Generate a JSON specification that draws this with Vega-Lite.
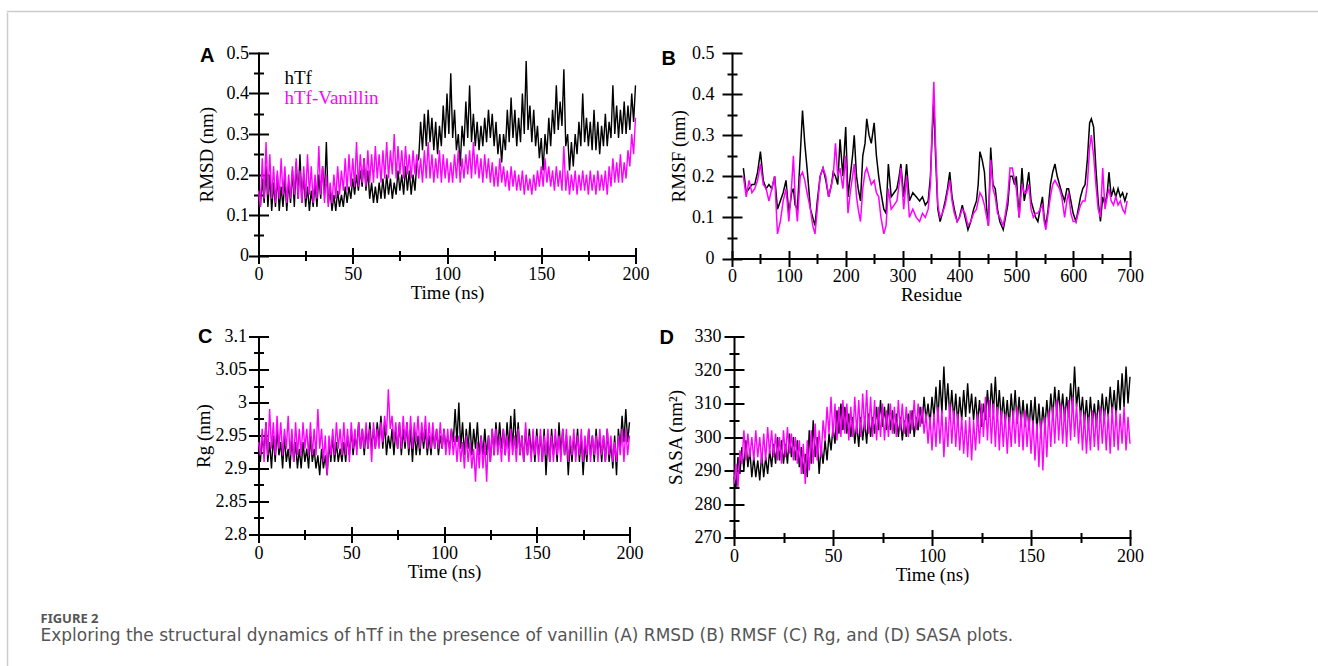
{
"$schema": "https://vega.github.io/schema/vega-lite/v6.json",
"background": "white",
"padding": {"left": 6.5, "top": 10.5, "right": 0, "bottom": 0},
"datasets": {
"md": [
{"t":0,"a1":0.15,"a2":0.16,"c1":2.93,"c2":2.94,"d1":288,"d2":286},
{"t":1,"a1":0.12,"a2":0.12,"c1":2.91,"c2":2.92,"d1":285,"d2":292},
{"t":2,"a1":0.19,"a2":0.24,"c1":2.95,"c2":2.96,"d1":294,"d2":285},
{"t":3,"a1":0.13,"a2":0.14,"c1":2.92,"c2":2.91,"d1":289,"d2":296},
{"t":4,"a1":0.22,"a2":0.28,"c1":2.97,"c2":2.97,"d1":297,"d2":292},
{"t":5,"a1":0.12,"a2":0.15,"c1":2.91,"c2":2.92,"d1":290,"d2":302},
{"t":6,"a1":0.2,"a2":0.25,"c1":2.94,"c2":2.99,"d1":299,"d2":293},
{"t":7,"a1":0.11,"a2":0.14,"c1":2.9,"c2":2.93,"d1":291,"d2":301},
{"t":8,"a1":0.18,"a2":0.22,"c1":2.95,"c2":2.97,"d1":296,"d2":294},
{"t":9,"a1":0.12,"a2":0.13,"c1":2.91,"c2":2.92,"d1":288,"d2":300},
{"t":10,"a1":0.2,"a2":0.21,"c1":2.96,"c2":2.98,"d1":294,"d2":293},
{"t":11,"a1":0.11,"a2":0.14,"c1":2.92,"c2":2.93,"d1":288,"d2":302},
{"t":12,"a1":0.17,"a2":0.24,"c1":2.94,"c2":2.97,"d1":293,"d2":294},
{"t":13,"a1":0.12,"a2":0.15,"c1":2.9,"c2":2.92,"d1":287,"d2":300},
{"t":14,"a1":0.19,"a2":0.22,"c1":2.95,"c2":2.96,"d1":295,"d2":292},
{"t":15,"a1":0.11,"a2":0.13,"c1":2.91,"c2":2.93,"d1":288,"d2":301},
{"t":16,"a1":0.18,"a2":0.2,"c1":2.93,"c2":2.98,"d1":294,"d2":293},
{"t":17,"a1":0.13,"a2":0.14,"c1":2.9,"c2":2.92,"d1":289,"d2":303},
{"t":18,"a1":0.21,"a2":0.22,"c1":2.95,"c2":2.96,"d1":296,"d2":295},
{"t":19,"a1":0.12,"a2":0.15,"c1":2.91,"c2":2.91,"d1":291,"d2":302},
{"t":20,"a1":0.23,"a2":0.24,"c1":2.94,"c2":2.97,"d1":298,"d2":294},
{"t":21,"a1":0.14,"a2":0.14,"c1":2.9,"c2":2.92,"d1":292,"d2":301},
{"t":22,"a1":0.25,"a2":0.21,"c1":2.93,"c2":2.96,"d1":300,"d2":293},
{"t":23,"a1":0.13,"a2":0.13,"c1":2.9,"c2":2.92,"d1":293,"d2":300},
{"t":24,"a1":0.2,"a2":0.22,"c1":2.94,"c2":2.97,"d1":299,"d2":292},
{"t":25,"a1":0.12,"a2":0.14,"c1":2.91,"c2":2.93,"d1":292,"d2":302},
{"t":26,"a1":0.17,"a2":0.25,"c1":2.93,"c2":2.96,"d1":298,"d2":294},
{"t":27,"a1":0.11,"a2":0.15,"c1":2.9,"c2":2.92,"d1":292,"d2":303},
{"t":28,"a1":0.16,"a2":0.22,"c1":2.95,"c2":2.97,"d1":301,"d2":295},
{"t":29,"a1":0.12,"a2":0.13,"c1":2.91,"c2":2.92,"d1":294,"d2":301},
{"t":30,"a1":0.18,"a2":0.2,"c1":2.93,"c2":2.96,"d1":300,"d2":293},
{"t":31,"a1":0.12,"a2":0.14,"c1":2.9,"c2":2.92,"d1":293,"d2":300},
{"t":32,"a1":0.2,"a2":0.27,"c1":2.92,"c2":2.99,"d1":299,"d2":292},
{"t":33,"a1":0.14,"a2":0.15,"c1":2.89,"c2":2.93,"d1":291,"d2":299},
{"t":34,"a1":0.22,"a2":0.22,"c1":2.93,"c2":2.96,"d1":297,"d2":289},
{"t":35,"a1":0.15,"a2":0.13,"c1":2.9,"c2":2.91,"d1":289,"d2":298},
{"t":36,"a1":0.28,"a2":0.2,"c1":2.92,"c2":2.95,"d1":295,"d2":286},
{"t":37,"a1":0.13,"a2":0.12,"c1":2.89,"c2":2.89,"d1":288,"d2":299},
{"t":38,"a1":0.16,"a2":0.18,"c1":2.94,"c2":2.95,"d1":302,"d2":290},
{"t":39,"a1":0.11,"a2":0.13,"c1":2.91,"c2":2.92,"d1":292,"d2":302},
{"t":40,"a1":0.15,"a2":0.2,"c1":2.95,"c2":2.96,"d1":305,"d2":292},
{"t":41,"a1":0.11,"a2":0.14,"c1":2.91,"c2":2.92,"d1":294,"d2":304},
{"t":42,"a1":0.16,"a2":0.22,"c1":2.94,"c2":2.97,"d1":300,"d2":293},
{"t":43,"a1":0.12,"a2":0.15,"c1":2.91,"c2":2.93,"d1":289,"d2":302},
{"t":44,"a1":0.15,"a2":0.21,"c1":2.93,"c2":2.96,"d1":297,"d2":294},
{"t":45,"a1":0.12,"a2":0.16,"c1":2.91,"c2":2.92,"d1":292,"d2":305},
{"t":46,"a1":0.17,"a2":0.24,"c1":2.94,"c2":2.97,"d1":299,"d2":299},
{"t":47,"a1":0.13,"a2":0.16,"c1":2.91,"c2":2.92,"d1":293,"d2":309},
{"t":48,"a1":0.17,"a2":0.25,"c1":2.95,"c2":2.96,"d1":301,"d2":301},
{"t":49,"a1":0.14,"a2":0.17,"c1":2.92,"c2":2.91,"d1":296,"d2":312},
{"t":50,"a1":0.19,"a2":0.24,"c1":2.96,"c2":2.97,"d1":303,"d2":300},
{"t":51,"a1":0.15,"a2":0.17,"c1":2.92,"c2":2.93,"d1":298,"d2":310},
{"t":52,"a1":0.2,"a2":0.28,"c1":2.95,"c2":2.96,"d1":308,"d2":299},
{"t":53,"a1":0.16,"a2":0.17,"c1":2.93,"c2":2.92,"d1":301,"d2":309},
{"t":54,"a1":0.21,"a2":0.25,"c1":2.97,"c2":2.97,"d1":310,"d2":300},
{"t":55,"a1":0.17,"a2":0.18,"c1":2.93,"c2":2.93,"d1":302,"d2":311},
{"t":56,"a1":0.24,"a2":0.24,"c1":2.96,"c2":2.96,"d1":309,"d2":301},
{"t":57,"a1":0.16,"a2":0.17,"c1":2.92,"c2":2.93,"d1":301,"d2":310},
{"t":58,"a1":0.21,"a2":0.26,"c1":2.96,"c2":2.97,"d1":307,"d2":299},
{"t":59,"a1":0.14,"a2":0.18,"c1":2.93,"c2":2.93,"d1":300,"d2":309},
{"t":60,"a1":0.18,"a2":0.25,"c1":2.97,"c2":2.96,"d1":306,"d2":300},
{"t":61,"a1":0.13,"a2":0.18,"c1":2.93,"c2":2.91,"d1":298,"d2":312},
{"t":62,"a1":0.17,"a2":0.27,"c1":2.96,"c2":2.97,"d1":304,"d2":301},
{"t":63,"a1":0.13,"a2":0.19,"c1":2.93,"c2":2.93,"d1":297,"d2":311},
{"t":64,"a1":0.18,"a2":0.25,"c1":2.97,"c2":2.96,"d1":306,"d2":300},
{"t":65,"a1":0.14,"a2":0.18,"c1":2.94,"c2":2.93,"d1":299,"d2":313},
{"t":66,"a1":0.19,"a2":0.26,"c1":2.98,"c2":2.97,"d1":305,"d2":302},
{"t":67,"a1":0.14,"a2":0.19,"c1":2.93,"c2":2.94,"d1":298,"d2":314},
{"t":68,"a1":0.2,"a2":0.28,"c1":2.97,"c2":2.98,"d1":307,"d2":301},
{"t":69,"a1":0.15,"a2":0.19,"c1":2.92,"c2":2.95,"d1":300,"d2":312},
{"t":70,"a1":0.19,"a2":0.26,"c1":2.95,"c2":3.02,"d1":306,"d2":300},
{"t":71,"a1":0.14,"a2":0.2,"c1":2.93,"c2":2.96,"d1":301,"d2":311},
{"t":72,"a1":0.18,"a2":0.3,"c1":2.96,"c2":2.98,"d1":309,"d2":299},
{"t":73,"a1":0.15,"a2":0.19,"c1":2.92,"c2":2.94,"d1":302,"d2":309},
{"t":74,"a1":0.21,"a2":0.27,"c1":2.96,"c2":2.97,"d1":311,"d2":300},
{"t":75,"a1":0.16,"a2":0.2,"c1":2.93,"c2":2.93,"d1":303,"d2":310},
{"t":76,"a1":0.2,"a2":0.26,"c1":2.97,"c2":2.97,"d1":309,"d2":299},
{"t":77,"a1":0.15,"a2":0.19,"c1":2.92,"c2":2.93,"d1":302,"d2":308},
{"t":78,"a1":0.22,"a2":0.27,"c1":2.96,"c2":2.98,"d1":310,"d2":300},
{"t":79,"a1":0.16,"a2":0.2,"c1":2.93,"c2":2.94,"d1":302,"d2":310},
{"t":80,"a1":0.21,"a2":0.25,"c1":2.97,"c2":2.97,"d1":308,"d2":301},
{"t":81,"a1":0.15,"a2":0.19,"c1":2.92,"c2":2.93,"d1":301,"d2":309},
{"t":82,"a1":0.2,"a2":0.26,"c1":2.96,"c2":2.98,"d1":307,"d2":300},
{"t":83,"a1":0.16,"a2":0.2,"c1":2.91,"c2":2.93,"d1":300,"d2":311},
{"t":84,"a1":0.23,"a2":0.25,"c1":2.96,"c2":2.97,"d1":306,"d2":302},
{"t":85,"a1":0.24,"a2":0.19,"c1":2.92,"c2":2.94,"d1":299,"d2":310},
{"t":86,"a1":0.33,"a2":0.24,"c1":2.95,"c2":2.98,"d1":305,"d2":301},
{"t":87,"a1":0.26,"a2":0.18,"c1":2.92,"c2":2.93,"d1":300,"d2":309},
{"t":88,"a1":0.35,"a2":0.26,"c1":2.96,"c2":2.97,"d1":307,"d2":300},
{"t":89,"a1":0.27,"a2":0.19,"c1":2.93,"c2":2.94,"d1":301,"d2":308},
{"t":90,"a1":0.36,"a2":0.28,"c1":2.96,"c2":2.98,"d1":308,"d2":302},
{"t":91,"a1":0.28,"a2":0.19,"c1":2.92,"c2":2.93,"d1":300,"d2":311},
{"t":92,"a1":0.34,"a2":0.25,"c1":2.95,"c2":2.97,"d1":306,"d2":302},
{"t":93,"a1":0.26,"a2":0.18,"c1":2.92,"c2":2.93,"d1":302,"d2":310},
{"t":94,"a1":0.33,"a2":0.24,"c1":2.96,"c2":2.97,"d1":309,"d2":303},
{"t":95,"a1":0.25,"a2":0.19,"c1":2.93,"c2":2.93,"d1":304,"d2":309},
{"t":96,"a1":0.32,"a2":0.26,"c1":2.96,"c2":2.96,"d1":312,"d2":301},
{"t":97,"a1":0.27,"a2":0.18,"c1":2.92,"c2":2.93,"d1":305,"d2":307},
{"t":98,"a1":0.37,"a2":0.25,"c1":2.95,"c2":2.97,"d1":310,"d2":298},
{"t":99,"a1":0.29,"a2":0.19,"c1":2.93,"c2":2.93,"d1":304,"d2":306},
{"t":100,"a1":0.4,"a2":0.24,"c1":2.96,"c2":2.96,"d1":312,"d2":296},
{"t":101,"a1":0.3,"a2":0.18,"c1":2.93,"c2":2.92,"d1":306,"d2":307},
{"t":102,"a1":0.45,"a2":0.23,"c1":2.95,"c2":2.96,"d1":315,"d2":297},
{"t":103,"a1":0.29,"a2":0.18,"c1":2.93,"c2":2.92,"d1":305,"d2":309},
{"t":104,"a1":0.36,"a2":0.25,"c1":2.96,"c2":2.96,"d1":317,"d2":298},
{"t":105,"a1":0.26,"a2":0.19,"c1":2.94,"c2":2.92,"d1":307,"d2":308},
{"t":106,"a1":0.3,"a2":0.26,"c1":2.99,"c2":2.95,"d1":321,"d2":294},
{"t":107,"a1":0.22,"a2":0.18,"c1":2.94,"c2":2.91,"d1":308,"d2":306},
{"t":108,"a1":0.32,"a2":0.24,"c1":3.0,"c2":2.95,"d1":316,"d2":297},
{"t":109,"a1":0.27,"a2":0.19,"c1":2.93,"c2":2.91,"d1":306,"d2":310},
{"t":110,"a1":0.38,"a2":0.25,"c1":2.97,"c2":2.94,"d1":314,"d2":298},
{"t":111,"a1":0.29,"a2":0.2,"c1":2.92,"c2":2.9,"d1":305,"d2":308},
{"t":112,"a1":0.42,"a2":0.26,"c1":2.96,"c2":2.95,"d1":313,"d2":297},
{"t":113,"a1":0.28,"a2":0.19,"c1":2.93,"c2":2.91,"d1":304,"d2":307},
{"t":114,"a1":0.35,"a2":0.28,"c1":2.97,"c2":2.94,"d1":312,"d2":296},
{"t":115,"a1":0.27,"a2":0.2,"c1":2.92,"c2":2.9,"d1":305,"d2":306},
{"t":116,"a1":0.33,"a2":0.25,"c1":2.96,"c2":2.93,"d1":314,"d2":295},
{"t":117,"a1":0.26,"a2":0.19,"c1":2.93,"c2":2.88,"d1":306,"d2":305},
{"t":118,"a1":0.32,"a2":0.24,"c1":2.97,"c2":2.94,"d1":316,"d2":294},
{"t":119,"a1":0.27,"a2":0.18,"c1":2.92,"c2":2.9,"d1":307,"d2":306},
{"t":120,"a1":0.34,"a2":0.25,"c1":2.95,"c2":2.95,"d1":313,"d2":293},
{"t":121,"a1":0.28,"a2":0.19,"c1":2.92,"c2":2.9,"d1":305,"d2":305},
{"t":122,"a1":0.36,"a2":0.24,"c1":2.96,"c2":2.94,"d1":312,"d2":296},
{"t":123,"a1":0.29,"a2":0.18,"c1":2.92,"c2":2.88,"d1":304,"d2":307},
{"t":124,"a1":0.35,"a2":0.23,"c1":2.95,"c2":2.95,"d1":311,"d2":298},
{"t":125,"a1":0.27,"a2":0.17,"c1":2.91,"c2":2.91,"d1":303,"d2":310},
{"t":126,"a1":0.33,"a2":0.22,"c1":2.96,"c2":2.96,"d1":310,"d2":300},
{"t":127,"a1":0.25,"a2":0.17,"c1":2.92,"c2":2.92,"d1":305,"d2":312},
{"t":128,"a1":0.3,"a2":0.24,"c1":2.97,"c2":2.96,"d1":314,"d2":299},
{"t":129,"a1":0.23,"a2":0.18,"c1":2.93,"c2":2.92,"d1":306,"d2":311},
{"t":130,"a1":0.3,"a2":0.22,"c1":2.97,"c2":2.95,"d1":316,"d2":298},
{"t":131,"a1":0.26,"a2":0.17,"c1":2.93,"c2":2.91,"d1":307,"d2":310},
{"t":132,"a1":0.36,"a2":0.21,"c1":2.96,"c2":2.96,"d1":318,"d2":297},
{"t":133,"a1":0.28,"a2":0.16,"c1":2.92,"c2":2.92,"d1":306,"d2":309},
{"t":134,"a1":0.39,"a2":0.22,"c1":2.97,"c2":2.95,"d1":314,"d2":296},
{"t":135,"a1":0.29,"a2":0.17,"c1":2.93,"c2":2.91,"d1":305,"d2":308},
{"t":136,"a1":0.36,"a2":0.21,"c1":2.98,"c2":2.96,"d1":312,"d2":297},
{"t":137,"a1":0.27,"a2":0.16,"c1":2.93,"c2":2.92,"d1":304,"d2":307},
{"t":138,"a1":0.34,"a2":0.2,"c1":2.99,"c2":2.95,"d1":311,"d2":295},
{"t":139,"a1":0.28,"a2":0.16,"c1":2.93,"c2":2.91,"d1":303,"d2":306},
{"t":140,"a1":0.4,"a2":0.21,"c1":2.97,"c2":2.96,"d1":313,"d2":297},
{"t":141,"a1":0.3,"a2":0.15,"c1":2.92,"c2":2.92,"d1":305,"d2":308},
{"t":142,"a1":0.48,"a2":0.2,"c1":2.95,"c2":2.95,"d1":314,"d2":298},
{"t":143,"a1":0.31,"a2":0.16,"c1":2.91,"c2":2.91,"d1":304,"d2":309},
{"t":144,"a1":0.37,"a2":0.19,"c1":2.96,"c2":2.97,"d1":312,"d2":297},
{"t":145,"a1":0.28,"a2":0.15,"c1":2.92,"c2":2.92,"d1":304,"d2":307},
{"t":146,"a1":0.36,"a2":0.2,"c1":2.96,"c2":2.95,"d1":311,"d2":296},
{"t":147,"a1":0.27,"a2":0.16,"c1":2.92,"c2":2.91,"d1":303,"d2":308},
{"t":148,"a1":0.32,"a2":0.21,"c1":2.95,"c2":2.96,"d1":310,"d2":297},
{"t":149,"a1":0.24,"a2":0.17,"c1":2.91,"c2":2.92,"d1":302,"d2":306},
{"t":150,"a1":0.29,"a2":0.22,"c1":2.96,"c2":2.95,"d1":311,"d2":295},
{"t":151,"a1":0.21,"a2":0.17,"c1":2.92,"c2":2.91,"d1":303,"d2":305},
{"t":152,"a1":0.3,"a2":0.24,"c1":2.95,"c2":2.96,"d1":312,"d2":293},
{"t":153,"a1":0.25,"a2":0.18,"c1":2.91,"c2":2.91,"d1":302,"d2":304},
{"t":154,"a1":0.34,"a2":0.22,"c1":2.96,"c2":2.95,"d1":310,"d2":291},
{"t":155,"a1":0.27,"a2":0.17,"c1":2.89,"c2":2.92,"d1":301,"d2":305},
{"t":156,"a1":0.36,"a2":0.21,"c1":2.95,"c2":2.96,"d1":309,"d2":290},
{"t":157,"a1":0.3,"a2":0.16,"c1":2.91,"c2":2.91,"d1":303,"d2":306},
{"t":158,"a1":0.42,"a2":0.22,"c1":2.96,"c2":2.95,"d1":311,"d2":294},
{"t":159,"a1":0.31,"a2":0.17,"c1":2.92,"c2":2.91,"d1":304,"d2":308},
{"t":160,"a1":0.38,"a2":0.21,"c1":2.95,"c2":2.96,"d1":313,"d2":297},
{"t":161,"a1":0.32,"a2":0.16,"c1":2.91,"c2":2.92,"d1":306,"d2":309},
{"t":162,"a1":0.46,"a2":0.27,"c1":2.97,"c2":2.95,"d1":315,"d2":298},
{"t":163,"a1":0.27,"a2":0.16,"c1":2.92,"c2":2.91,"d1":307,"d2":311},
{"t":164,"a1":0.3,"a2":0.21,"c1":2.96,"c2":2.96,"d1":314,"d2":299},
{"t":165,"a1":0.21,"a2":0.15,"c1":2.92,"c2":2.92,"d1":306,"d2":310},
{"t":166,"a1":0.28,"a2":0.2,"c1":2.95,"c2":2.96,"d1":313,"d2":298},
{"t":167,"a1":0.22,"a2":0.16,"c1":2.89,"c2":2.91,"d1":305,"d2":309},
{"t":168,"a1":0.3,"a2":0.21,"c1":2.94,"c2":2.95,"d1":312,"d2":297},
{"t":169,"a1":0.25,"a2":0.15,"c1":2.91,"c2":2.92,"d1":306,"d2":311},
{"t":170,"a1":0.33,"a2":0.2,"c1":2.95,"c2":2.96,"d1":316,"d2":299},
{"t":171,"a1":0.27,"a2":0.16,"c1":2.92,"c2":2.91,"d1":308,"d2":312},
{"t":172,"a1":0.4,"a2":0.21,"c1":2.96,"c2":2.95,"d1":321,"d2":300},
{"t":173,"a1":0.28,"a2":0.16,"c1":2.91,"c2":2.92,"d1":309,"d2":310},
{"t":174,"a1":0.34,"a2":0.2,"c1":2.95,"c2":2.96,"d1":315,"d2":298},
{"t":175,"a1":0.27,"a2":0.15,"c1":2.89,"c2":2.91,"d1":306,"d2":308},
{"t":176,"a1":0.33,"a2":0.21,"c1":2.94,"c2":2.95,"d1":312,"d2":296},
{"t":177,"a1":0.26,"a2":0.16,"c1":2.91,"c2":2.92,"d1":304,"d2":307},
{"t":178,"a1":0.36,"a2":0.2,"c1":2.96,"c2":2.96,"d1":311,"d2":295},
{"t":179,"a1":0.26,"a2":0.15,"c1":2.92,"c2":2.91,"d1":303,"d2":306},
{"t":180,"a1":0.33,"a2":0.21,"c1":2.95,"c2":2.95,"d1":312,"d2":296},
{"t":181,"a1":0.25,"a2":0.16,"c1":2.91,"c2":2.92,"d1":304,"d2":308},
{"t":182,"a1":0.32,"a2":0.2,"c1":2.96,"c2":2.95,"d1":310,"d2":297},
{"t":183,"a1":0.27,"a2":0.16,"c1":2.92,"c2":2.91,"d1":303,"d2":307},
{"t":184,"a1":0.35,"a2":0.21,"c1":2.95,"c2":2.96,"d1":311,"d2":296},
{"t":185,"a1":0.27,"a2":0.15,"c1":2.91,"c2":2.92,"d1":305,"d2":309},
{"t":186,"a1":0.33,"a2":0.22,"c1":2.95,"c2":2.95,"d1":313,"d2":298},
{"t":187,"a1":0.29,"a2":0.17,"c1":2.91,"c2":2.91,"d1":305,"d2":308},
{"t":188,"a1":0.42,"a2":0.24,"c1":2.96,"c2":2.96,"d1":312,"d2":296},
{"t":189,"a1":0.3,"a2":0.18,"c1":2.91,"c2":2.92,"d1":306,"d2":307},
{"t":190,"a1":0.37,"a2":0.23,"c1":2.94,"c2":2.95,"d1":315,"d2":295},
{"t":191,"a1":0.29,"a2":0.18,"c1":2.9,"c2":2.91,"d1":307,"d2":309},
{"t":192,"a1":0.36,"a2":0.25,"c1":2.95,"c2":2.94,"d1":314,"d2":297},
{"t":193,"a1":0.3,"a2":0.18,"c1":2.89,"c2":2.91,"d1":306,"d2":308},
{"t":194,"a1":0.38,"a2":0.23,"c1":2.96,"c2":2.95,"d1":317,"d2":296},
{"t":195,"a1":0.3,"a2":0.19,"c1":2.93,"c2":2.92,"d1":308,"d2":307},
{"t":196,"a1":0.37,"a2":0.26,"c1":2.98,"c2":2.96,"d1":319,"d2":298},
{"t":197,"a1":0.31,"a2":0.22,"c1":2.94,"c2":2.91,"d1":309,"d2":309},
{"t":198,"a1":0.4,"a2":0.3,"c1":2.99,"c2":2.96,"d1":321,"d2":296},
{"t":199,"a1":0.33,"a2":0.25,"c1":2.94,"c2":2.92,"d1":310,"d2":306},
{"t":200,"a1":0.42,"a2":0.34,"c1":2.97,"c2":2.95,"d1":318,"d2":298}
],
"rmsf": [
{"r":20,"h":0.22,"v":0.2},{"r":25,"h":0.16,"v":0.15},{"r":30,"h":0.17,"v":0.19},{"r":35,"h":0.18,"v":0.16},{"r":40,"h":0.18,"v":0.17},{"r":45,"h":0.21,"v":0.19},{"r":50,"h":0.26,"v":0.23},{"r":55,"h":0.19,"v":0.18},{"r":60,"h":0.17,"v":0.17},{"r":65,"h":0.18,"v":0.14},{"r":70,"h":0.17,"v":0.17},{"r":75,"h":0.2,"v":0.2},{"r":80,"h":0.12,"v":0.06},{"r":85,"h":0.14,"v":0.09},{"r":90,"h":0.16,"v":0.14},{"r":95,"h":0.19,"v":0.17},{"r":100,"h":0.11,"v":0.09},{"r":105,"h":0.16,"v":0.18},{"r":108,"h":0.17,"v":0.25},{"r":111,"h":0.13,"v":0.15},{"r":115,"h":0.12,"v":0.09},{"r":120,"h":0.25,"v":0.2},{"r":124,"h":0.36,"v":0.21},{"r":128,"h":0.28,"v":0.19},{"r":132,"h":0.22,"v":0.16},{"r":138,"h":0.12,"v":0.12},{"r":142,"h":0.1,"v":0.08},{"r":146,"h":0.08,"v":0.06},{"r":150,"h":0.14,"v":0.12},{"r":155,"h":0.2,"v":0.2},{"r":160,"h":0.22,"v":0.22},{"r":165,"h":0.19,"v":0.2},{"r":170,"h":0.15,"v":0.15},{"r":175,"h":0.18,"v":0.18},{"r":178,"h":0.21,"v":0.2},{"r":182,"h":0.2,"v":0.28},{"r":186,"h":0.18,"v":0.2},{"r":190,"h":0.29,"v":0.22},{"r":195,"h":0.2,"v":0.17},{"r":200,"h":0.32,"v":0.25},{"r":204,"h":0.15,"v":0.11},{"r":208,"h":0.2,"v":0.16},{"r":212,"h":0.25,"v":0.2},{"r":215,"h":0.3,"v":0.23},{"r":219,"h":0.2,"v":0.15},{"r":222,"h":0.17,"v":0.12},{"r":226,"h":0.14,"v":0.09},{"r":230,"h":0.25,"v":0.17},{"r":234,"h":0.28,"v":0.21},{"r":237,"h":0.34,"v":0.22},{"r":241,"h":0.3,"v":0.2},{"r":245,"h":0.28,"v":0.18},{"r":250,"h":0.33,"v":0.19},{"r":254,"h":0.25,"v":0.16},{"r":258,"h":0.2,"v":0.15},{"r":262,"h":0.16,"v":0.1},{"r":267,"h":0.12,"v":0.06},{"r":271,"h":0.11,"v":0.08},{"r":275,"h":0.23,"v":0.17},{"r":280,"h":0.15,"v":0.12},{"r":285,"h":0.16,"v":0.13},{"r":290,"h":0.17,"v":0.14},{"r":294,"h":0.2,"v":0.18},{"r":297,"h":0.23,"v":0.22},{"r":302,"h":0.15,"v":0.12},{"r":307,"h":0.23,"v":0.2},{"r":312,"h":0.14,"v":0.1},{"r":318,"h":0.16,"v":0.12},{"r":324,"h":0.15,"v":0.1},{"r":330,"h":0.14,"v":0.09},{"r":335,"h":0.15,"v":0.11},{"r":340,"h":0.13,"v":0.1},{"r":345,"h":0.14,"v":0.12},{"r":349,"h":0.2,"v":0.18},{"r":352,"h":0.3,"v":0.32},{"r":355,"h":0.38,"v":0.43},{"r":358,"h":0.25,"v":0.28},{"r":362,"h":0.12,"v":0.13},{"r":366,"h":0.09,"v":0.1},{"r":370,"h":0.11,"v":0.11},{"r":375,"h":0.14,"v":0.13},{"r":379,"h":0.17,"v":0.16},{"r":383,"h":0.21,"v":0.19},{"r":387,"h":0.15,"v":0.14},{"r":391,"h":0.12,"v":0.11},{"r":396,"h":0.09,"v":0.09},{"r":400,"h":0.1,"v":0.1},{"r":405,"h":0.13,"v":0.12},{"r":410,"h":0.1,"v":0.11},{"r":415,"h":0.07,"v":0.08},{"r":420,"h":0.09,"v":0.09},{"r":425,"h":0.12,"v":0.11},{"r":430,"h":0.14,"v":0.12},{"r":433,"h":0.18,"v":0.14},{"r":436,"h":0.26,"v":0.16},{"r":440,"h":0.24,"v":0.15},{"r":444,"h":0.21,"v":0.13},{"r":448,"h":0.12,"v":0.1},{"r":451,"h":0.08,"v":0.08},{"r":455,"h":0.27,"v":0.24},{"r":459,"h":0.18,"v":0.17},{"r":463,"h":0.17,"v":0.15},{"r":467,"h":0.12,"v":0.11},{"r":471,"h":0.09,"v":0.1},{"r":477,"h":0.07,"v":0.08},{"r":481,"h":0.1,"v":0.11},{"r":485,"h":0.13,"v":0.15},{"r":489,"h":0.2,"v":0.22},{"r":493,"h":0.2,"v":0.22},{"r":497,"h":0.18,"v":0.19},{"r":500,"h":0.2,"v":0.17},{"r":505,"h":0.1,"v":0.1},{"r":510,"h":0.22,"v":0.18},{"r":514,"h":0.14,"v":0.16},{"r":518,"h":0.17,"v":0.16},{"r":522,"h":0.21,"v":0.18},{"r":526,"h":0.14,"v":0.12},{"r":530,"h":0.12,"v":0.1},{"r":534,"h":0.1,"v":0.11},{"r":538,"h":0.09,"v":0.11},{"r":542,"h":0.12,"v":0.12},{"r":546,"h":0.15,"v":0.13},{"r":549,"h":0.1,"v":0.09},{"r":552,"h":0.08,"v":0.07},{"r":556,"h":0.12,"v":0.11},{"r":560,"h":0.18,"v":0.15},{"r":564,"h":0.21,"v":0.18},{"r":568,"h":0.23,"v":0.19},{"r":572,"h":0.2,"v":0.18},{"r":576,"h":0.18,"v":0.17},{"r":580,"h":0.16,"v":0.15},{"r":585,"h":0.14,"v":0.1},{"r":589,"h":0.17,"v":0.14},{"r":592,"h":0.17,"v":0.16},{"r":596,"h":0.14,"v":0.11},{"r":600,"h":0.11,"v":0.09},{"r":605,"h":0.09,"v":0.09},{"r":609,"h":0.12,"v":0.11},{"r":613,"h":0.15,"v":0.13},{"r":617,"h":0.17,"v":0.14},{"r":621,"h":0.18,"v":0.14},{"r":625,"h":0.24,"v":0.18},{"r":629,"h":0.33,"v":0.27},{"r":632,"h":0.34,"v":0.3},{"r":636,"h":0.32,"v":0.25},{"r":640,"h":0.22,"v":0.18},{"r":644,"h":0.14,"v":0.12},{"r":648,"h":0.09,"v":0.1},{"r":652,"h":0.15,"v":0.22},{"r":656,"h":0.13,"v":0.12},{"r":660,"h":0.16,"v":0.15},{"r":663,"h":0.21,"v":0.17},{"r":667,"h":0.15,"v":0.14},{"r":671,"h":0.17,"v":0.13},{"r":675,"h":0.15,"v":0.15},{"r":679,"h":0.17,"v":0.13},{"r":683,"h":0.15,"v":0.14},{"r":687,"h":0.16,"v":0.12},{"r":691,"h":0.14,"v":0.11},{"r":695,"h":0.16,"v":0.14}
]
},
"spacing": 0,
"resolve": {"scale": {"color": "independent"}, "legend": {"color": "independent"}},
"vconcat": [
{"width": 1310, "height": 0.01, "view": {"stroke": "#cccccc", "strokeWidth": 1.5}, "data": {"values": [{}]}, "mark": {"type": "point", "size": 0, "strokeWidth": 0, "opacity": 0}},
{"spacing": 32, "resolve": {"scale": {"color": "independent"}, "legend": {"color": "independent"}},
 "hconcat": [
 {"width": 0.01, "height": 652.5, "view": {"stroke": "#cccccc", "strokeWidth": 1.5}, "data": {"values": [{}]}, "mark": {"type": "point", "size": 0, "strokeWidth": 0, "opacity": 0}},
 {"spacing": 21.5, "resolve": {"scale": {"color": "independent"}, "legend": {"color": "independent"}},
  "title": {"text": "FIGURE 2", "subtitle": "Exploring the structural dynamics of hTf in the presence of vanillin (A) RMSD (B) RMSF (C) Rg, and (D) SASA plots.",
            "orient": "bottom", "anchor": "start", "frame": "bounds", "offset": 28.5, "dx": -154, "limit": 1500,
            "font": "Noto Sans", "fontSize": 13, "fontWeight": "bold", "color": "#555555",
            "subtitleFont": "DejaVu Sans", "subtitleFontSize": 17, "subtitleColor": "#555555", "subtitlePadding": 1.5},
  "vconcat": [
  {"width": 0.01, "height": 9, "data": {"values": [{}]}, "mark": {"type": "point", "size": 0, "strokeWidth": 0, "opacity": 0}},
  {"spacing": 11.5, "resolve": {"scale": {"color": "independent"}, "legend": {"color": "independent"}},
   "hconcat": [
   {"width": 377, "height": 202.5,
    "resolve": {"axis": {"x": "independent", "y": "independent"}},
    "layer": [
     {"data": {"name": "md"}, "mark": {"type": "line", "strokeWidth": 1.4},
      "encoding": {
       "x": {"field": "t", "type": "quantitative", "scale": {"domain": [0, 200], "nice": false},
             "axis": {"orient": "bottom", "values": [0, 50, 100, 150, 200], "tickSize": 8, "labelPadding": 2, "labelExpr": "'' + datum.value", "title": "Time (ns)", "titlePadding": 0}},
       "y": {"field": "a1", "type": "quantitative", "scale": {"domain": [0, 0.5], "nice": false},
             "axis": {"orient": "left", "values": [0, 0.1, 0.2, 0.3, 0.4, 0.5], "tickSize": 10, "labelPadding": 0, "labelExpr": "'' + datum.value", "title": "RMSD (nm)", "titlePadding": 9.5}},
       "color": {"datum": "hTf", "type": "nominal", "scale": {"domain": ["hTf", "hTf-Vanillin"], "range": ["#000000", "#ff00ff"]},
                 "legend": {"orient": "none", "legendX": 7, "legendY": 15, "title": null, "symbolSize": 0, "symbolStrokeWidth": 0, "symbolOpacity": 0, "labelOffset": 0, "labelFont": "Liberation Serif", "labelFontSize": 19, "rowPadding": 0, "padding": 0, "labelLimit": 300,
                            "labelColor": {"expr": "datum.value === 'hTf' ? '#000000' : '#ff00ff'"}}}
      }},
     {"data": {"name": "md"}, "mark": {"type": "line", "strokeWidth": 1.4},
      "encoding": {"x": {"field": "t", "type": "quantitative", "axis": null}, "y": {"field": "a2", "type": "quantitative", "axis": null}, "color": {"datum": "hTf-Vanillin", "type": "nominal"}}},
     {"data": {"values": [{}]}, "mark": {"type": "point", "size": 0, "strokeWidth": 0, "opacity": 0},
      "encoding": {
       "x": {"datum": 100, "type": "quantitative", "axis": {"orient": "bottom", "values": [0, 50, 100, 150, 200], "tickSize": -8, "labels": false, "domain": false, "title": null}},
       "y": {"datum": 0.25, "type": "quantitative", "axis": {"orient": "left", "values": [0, 0.1, 0.2, 0.3, 0.4, 0.5], "tickSize": -10, "labels": false, "domain": false, "title": null}}}},
     {"data": {"values": [{}]}, "mark": {"type": "point", "size": 0, "strokeWidth": 0, "opacity": 0},
      "encoding": {
       "x": {"datum": 100, "type": "quantitative", "axis": {"orient": "bottom", "values": [25, 75, 125, 175], "tickSize": 5, "labels": false, "domain": false, "title": null}},
       "y": {"datum": 0.25, "type": "quantitative", "axis": {"orient": "left", "values": [0.05, 0.15, 0.25, 0.35, 0.45], "tickSize": 5, "labels": false, "domain": false, "title": null}}}},
     {"data": {"values": [{}]}, "mark": {"type": "point", "size": 0, "strokeWidth": 0, "opacity": 0},
      "encoding": {
       "x": {"datum": 100, "type": "quantitative", "axis": {"orient": "bottom", "values": [25, 75, 125, 175], "tickSize": -5, "labels": false, "domain": false, "title": null}},
       "y": {"datum": 0.25, "type": "quantitative", "axis": {"orient": "left", "values": [0.05, 0.15, 0.25, 0.35, 0.45], "tickSize": -5, "labels": false, "domain": false,
             "title": "A", "titleAngle": 0, "titleX": -59, "titleY": 8, "titleAlign": "left", "titleBaseline": "alphabetic", "titleFont": "Liberation Sans", "titleFontWeight": "bold", "titleFontSize": 20}}}}
    ]},
   {"width": 398, "height": 205.5,
    "resolve": {"axis": {"x": "independent", "y": "independent"}},
    "layer": [
     {"data": {"name": "rmsf"}, "mark": {"type": "line", "strokeWidth": 1.5, "color": "#000000"},
      "encoding": {
       "x": {"field": "r", "type": "quantitative", "scale": {"domain": [0, 700], "nice": false},
             "axis": {"orient": "bottom", "values": [0, 100, 200, 300, 400, 500, 600, 700], "tickSize": 8, "labelPadding": 1, "labelExpr": "'' + datum.value", "title": "Residue", "titlePadding": 0}},
       "y": {"field": "h", "type": "quantitative", "scale": {"domain": [0, 0.5], "nice": false},
             "axis": {"orient": "left", "values": [0, 0.1, 0.2, 0.3, 0.4, 0.5], "tickSize": 10, "labelPadding": 8, "labelExpr": "'' + datum.value", "title": "RMSF (nm)", "titlePadding": 3}}
      }},
     {"data": {"name": "rmsf"}, "mark": {"type": "line", "strokeWidth": 1.5, "color": "#ff00ff"},
      "encoding": {"x": {"field": "r", "type": "quantitative", "axis": null}, "y": {"field": "v", "type": "quantitative", "axis": null}}},
     {"data": {"values": [{}]}, "mark": {"type": "point", "size": 0, "strokeWidth": 0, "opacity": 0},
      "encoding": {
       "x": {"datum": 350, "type": "quantitative", "axis": {"orient": "bottom", "values": [0, 100, 200, 300, 400, 500, 600, 700], "tickSize": -8, "labels": false, "domain": false, "title": null}},
       "y": {"datum": 0.25, "type": "quantitative", "axis": {"orient": "left", "values": [0, 0.1, 0.2, 0.3, 0.4, 0.5], "tickSize": -10, "labels": false, "domain": false, "title": null}}}},
     {"data": {"values": [{}]}, "mark": {"type": "point", "size": 0, "strokeWidth": 0, "opacity": 0},
      "encoding": {
       "x": {"datum": 350, "type": "quantitative", "axis": {"orient": "bottom", "values": [50, 150, 250, 350, 450, 550, 650], "tickSize": 5, "labels": false, "domain": false, "title": null}},
       "y": {"datum": 0.25, "type": "quantitative", "axis": {"orient": "left", "values": [0.05, 0.15, 0.25, 0.35, 0.45], "tickSize": 5, "labels": false, "domain": false, "title": null}}}},
     {"data": {"values": [{}]}, "mark": {"type": "point", "size": 0, "strokeWidth": 0, "opacity": 0},
      "encoding": {
       "x": {"datum": 350, "type": "quantitative", "axis": {"orient": "bottom", "values": [50, 150, 250, 350, 450, 550, 650], "tickSize": -5, "labels": false, "domain": false, "title": null}},
       "y": {"datum": 0.25, "type": "quantitative", "axis": {"orient": "left", "values": [0.05, 0.15, 0.25, 0.35, 0.45], "tickSize": -5, "labels": false, "domain": false,
             "title": "B", "titleAngle": 0, "titleX": -71, "titleY": 11, "titleAlign": "left", "titleBaseline": "alphabetic", "titleFont": "Liberation Sans", "titleFontWeight": "bold", "titleFontSize": 20}}}}
    ]}
   ]},
  {"spacing": 15.5, "resolve": {"scale": {"color": "independent"}, "legend": {"color": "independent"}},
   "hconcat": [
   {"width": 371, "height": 198,
    "resolve": {"axis": {"x": "independent", "y": "independent"}},
    "layer": [
     {"data": {"name": "md"}, "mark": {"type": "line", "strokeWidth": 1.4, "color": "#000000"},
      "encoding": {
       "x": {"field": "t", "type": "quantitative", "scale": {"domain": [0, 200], "nice": false},
             "axis": {"orient": "bottom", "values": [0, 50, 100, 150, 200], "tickSize": 8, "labelPadding": 2, "labelExpr": "'' + datum.value", "title": "Time (ns)", "titlePadding": 0}},
       "y": {"field": "c1", "type": "quantitative", "scale": {"domain": [2.8, 3.1], "nice": false, "zero": false},
             "axis": {"orient": "left", "values": [2.8, 2.85, 2.9, 2.95, 3, 3.05, 3.1], "tickSize": 10, "labelPadding": 2, "labelExpr": "'' + datum.value", "title": "Rg (nm)", "titlePadding": 1.5}}
      }},
     {"data": {"name": "md"}, "mark": {"type": "line", "strokeWidth": 1.4, "color": "#ff00ff"},
      "encoding": {"x": {"field": "t", "type": "quantitative", "axis": null}, "y": {"field": "c2", "type": "quantitative", "axis": null}}},
     {"data": {"values": [{}]}, "mark": {"type": "point", "size": 0, "strokeWidth": 0, "opacity": 0},
      "encoding": {
       "x": {"datum": 100, "type": "quantitative", "axis": {"orient": "bottom", "values": [0, 50, 100, 150, 200], "tickSize": -8, "labels": false, "domain": false, "title": null}},
       "y": {"datum": 2.95, "type": "quantitative", "axis": {"orient": "left", "values": [2.8, 2.85, 2.9, 2.95, 3, 3.05, 3.1], "tickSize": -10, "labels": false, "domain": false, "title": null}}}},
     {"data": {"values": [{}]}, "mark": {"type": "point", "size": 0, "strokeWidth": 0, "opacity": 0},
      "encoding": {
       "x": {"datum": 100, "type": "quantitative", "axis": {"orient": "bottom", "values": [25, 75, 125, 175], "tickSize": 5, "labels": false, "domain": false, "title": null}},
       "y": {"datum": 2.95, "type": "quantitative", "axis": {"orient": "left", "values": [2.825, 2.875, 2.925, 2.975, 3.025, 3.075], "tickSize": 5, "labels": false, "domain": false, "title": null}}}},
     {"data": {"values": [{}]}, "mark": {"type": "point", "size": 0, "strokeWidth": 0, "opacity": 0},
      "encoding": {
       "x": {"datum": 100, "type": "quantitative", "axis": {"orient": "bottom", "values": [25, 75, 125, 175], "tickSize": -5, "labels": false, "domain": false, "title": null}},
       "y": {"datum": 2.95, "type": "quantitative", "axis": {"orient": "left", "values": [2.825, 2.875, 2.925, 2.975, 3.025, 3.075], "tickSize": -5, "labels": false, "domain": false,
             "title": "C", "titleAngle": 0, "titleX": -61, "titleY": 6, "titleAlign": "left", "titleBaseline": "alphabetic", "titleFont": "Liberation Sans", "titleFontWeight": "bold", "titleFontSize": 20}}}}
    ]},
   {"width": 396, "height": 201,
    "resolve": {"axis": {"x": "independent", "y": "independent"}},
    "layer": [
     {"data": {"name": "md"}, "mark": {"type": "line", "strokeWidth": 1.4, "color": "#000000"},
      "encoding": {
       "x": {"field": "t", "type": "quantitative", "scale": {"domain": [0, 200], "nice": false},
             "axis": {"orient": "bottom", "values": [0, 50, 100, 150, 200], "tickSize": 8, "labelPadding": 2, "labelExpr": "'' + datum.value", "title": "Time (ns)", "titlePadding": 0}},
       "y": {"field": "d1", "type": "quantitative", "scale": {"domain": [270, 330], "nice": false, "zero": false},
             "axis": {"orient": "left", "values": [270, 280, 290, 300, 310, 320, 330], "tickSize": 10, "labelPadding": 3, "labelExpr": "'' + datum.value", "title": "SASA (nm²)", "titlePadding": 8.5}}
      }},
     {"data": {"name": "md"}, "mark": {"type": "line", "strokeWidth": 1.4, "color": "#ff00ff"},
      "encoding": {"x": {"field": "t", "type": "quantitative", "axis": null}, "y": {"field": "d2", "type": "quantitative", "axis": null}}},
     {"data": {"values": [{}]}, "mark": {"type": "point", "size": 0, "strokeWidth": 0, "opacity": 0},
      "encoding": {
       "x": {"datum": 100, "type": "quantitative", "axis": {"orient": "bottom", "values": [0, 50, 100, 150, 200], "tickSize": -8, "labels": false, "domain": false, "title": null}},
       "y": {"datum": 300, "type": "quantitative", "axis": {"orient": "left", "values": [270, 280, 290, 300, 310, 320, 330], "tickSize": -10, "labels": false, "domain": false, "title": null}}}},
     {"data": {"values": [{}]}, "mark": {"type": "point", "size": 0, "strokeWidth": 0, "opacity": 0},
      "encoding": {
       "x": {"datum": 100, "type": "quantitative", "axis": {"orient": "bottom", "values": [25, 75, 125, 175], "tickSize": 5, "labels": false, "domain": false, "title": null}},
       "y": {"datum": 300, "type": "quantitative", "axis": {"orient": "left", "values": [275, 285, 295, 305, 315, 325], "tickSize": 5, "labels": false, "domain": false, "title": null}}}},
     {"data": {"values": [{}]}, "mark": {"type": "point", "size": 0, "strokeWidth": 0, "opacity": 0},
      "encoding": {
       "x": {"datum": 100, "type": "quantitative", "axis": {"orient": "bottom", "values": [25, 75, 125, 175], "tickSize": -5, "labels": false, "domain": false, "title": null}},
       "y": {"datum": 300, "type": "quantitative", "axis": {"orient": "left", "values": [275, 285, 295, 305, 315, 325], "tickSize": -5, "labels": false, "domain": false,
             "title": "D", "titleAngle": 0, "titleX": -75, "titleY": 7, "titleAlign": "left", "titleBaseline": "alphabetic", "titleFont": "Liberation Sans", "titleFontWeight": "bold", "titleFontSize": 20}}}}
    ]}
   ]}
  ]}
 ]}
],
"config": {
 "view": {"stroke": null},
 "axis": {"labelFont": "Liberation Serif", "labelFontSize": 18, "labelColor": "#000000", "titleFont": "Liberation Serif", "titleFontSize": 19, "titleFontWeight": "normal", "titleColor": "#000000",
          "domainColor": "#000000", "domainWidth": 2, "domainCap": "square", "tickColor": "#000000", "tickWidth": 2, "grid": false, "labelFlush": false, "labelOverlap": false}
}
}
